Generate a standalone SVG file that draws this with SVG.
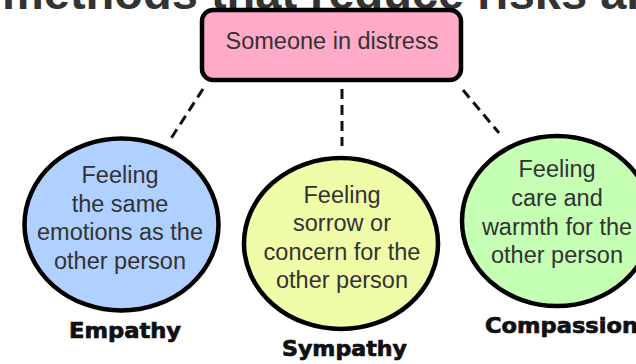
<svg xmlns="http://www.w3.org/2000/svg" width="636" height="364" viewBox="0 0 636 364">
<style>
.title{font-family:"Liberation Sans",Arial,sans-serif;font-weight:bold;font-size:47px;fill:#333}
.body{font-family:"Liberation Sans",Arial,sans-serif;font-size:23.5px;fill:#333;text-anchor:middle}
.label{font-family:"DejaVu Sans",sans-serif;font-weight:bold;font-size:21px;fill:#111;stroke:#111;stroke-width:0.7}
.shape{stroke:#000;stroke-width:4.5}
.dash{stroke:#111;stroke-width:3;stroke-dasharray:10 6;fill:none}
</style>
<rect width="636" height="364" fill="#fff"/>
<text class="title" x="2" y="9">methods that reduce risks and</text>
<g id="connectors">
<line class="dash" x1="203" y1="89" x2="170" y2="140"/>
<line class="dash" x1="342" y1="89" x2="342" y2="146"/>
<line class="dash" x1="463" y1="90" x2="499" y2="133"/>
</g>
<g id="distress">
<rect class="shape" x="202" y="10" width="259" height="70" rx="11" fill="#ffaac8"/>
<text class="body" x="332" y="49">Someone in distress</text>
</g>
<g id="empathy">
<ellipse class="shape" cx="121.5" cy="224.5" rx="97" ry="86" fill="#b0d0ff"/>
<text class="body" x="120" y="183">Feeling</text>
<text class="body" x="120" y="211.5">the same</text>
<text class="body" x="120" y="240">emotions as the</text>
<text class="body" x="120" y="268.5">other person</text>
<text class="label" x="69" y="338" textLength="112" lengthAdjust="spacingAndGlyphs">Empathy</text>
</g>
<g id="sympathy">
<ellipse class="shape" cx="341" cy="243.5" rx="97" ry="85.5" fill="#f0fca8"/>
<text class="body" x="342" y="203">Feeling</text>
<text class="body" x="342" y="231">sorrow or</text>
<text class="body" x="342" y="259.5">concern for the</text>
<text class="body" x="342" y="288">other person</text>
<text class="label" x="282" y="356" textLength="125" lengthAdjust="spacingAndGlyphs">Sympathy</text>
</g>
<g id="compassion">
<ellipse class="shape" cx="557" cy="221" rx="95" ry="85" fill="#c4ffb4"/>
<text class="body" x="557" y="177">Feeling</text>
<text class="body" x="557" y="205.5">care and</text>
<text class="body" x="557" y="234.5">warmth for the</text>
<text class="body" x="557" y="263">other person</text>
<text class="label" x="485" y="333" textLength="153" lengthAdjust="spacingAndGlyphs">Compassion</text>
</g>
</svg>
